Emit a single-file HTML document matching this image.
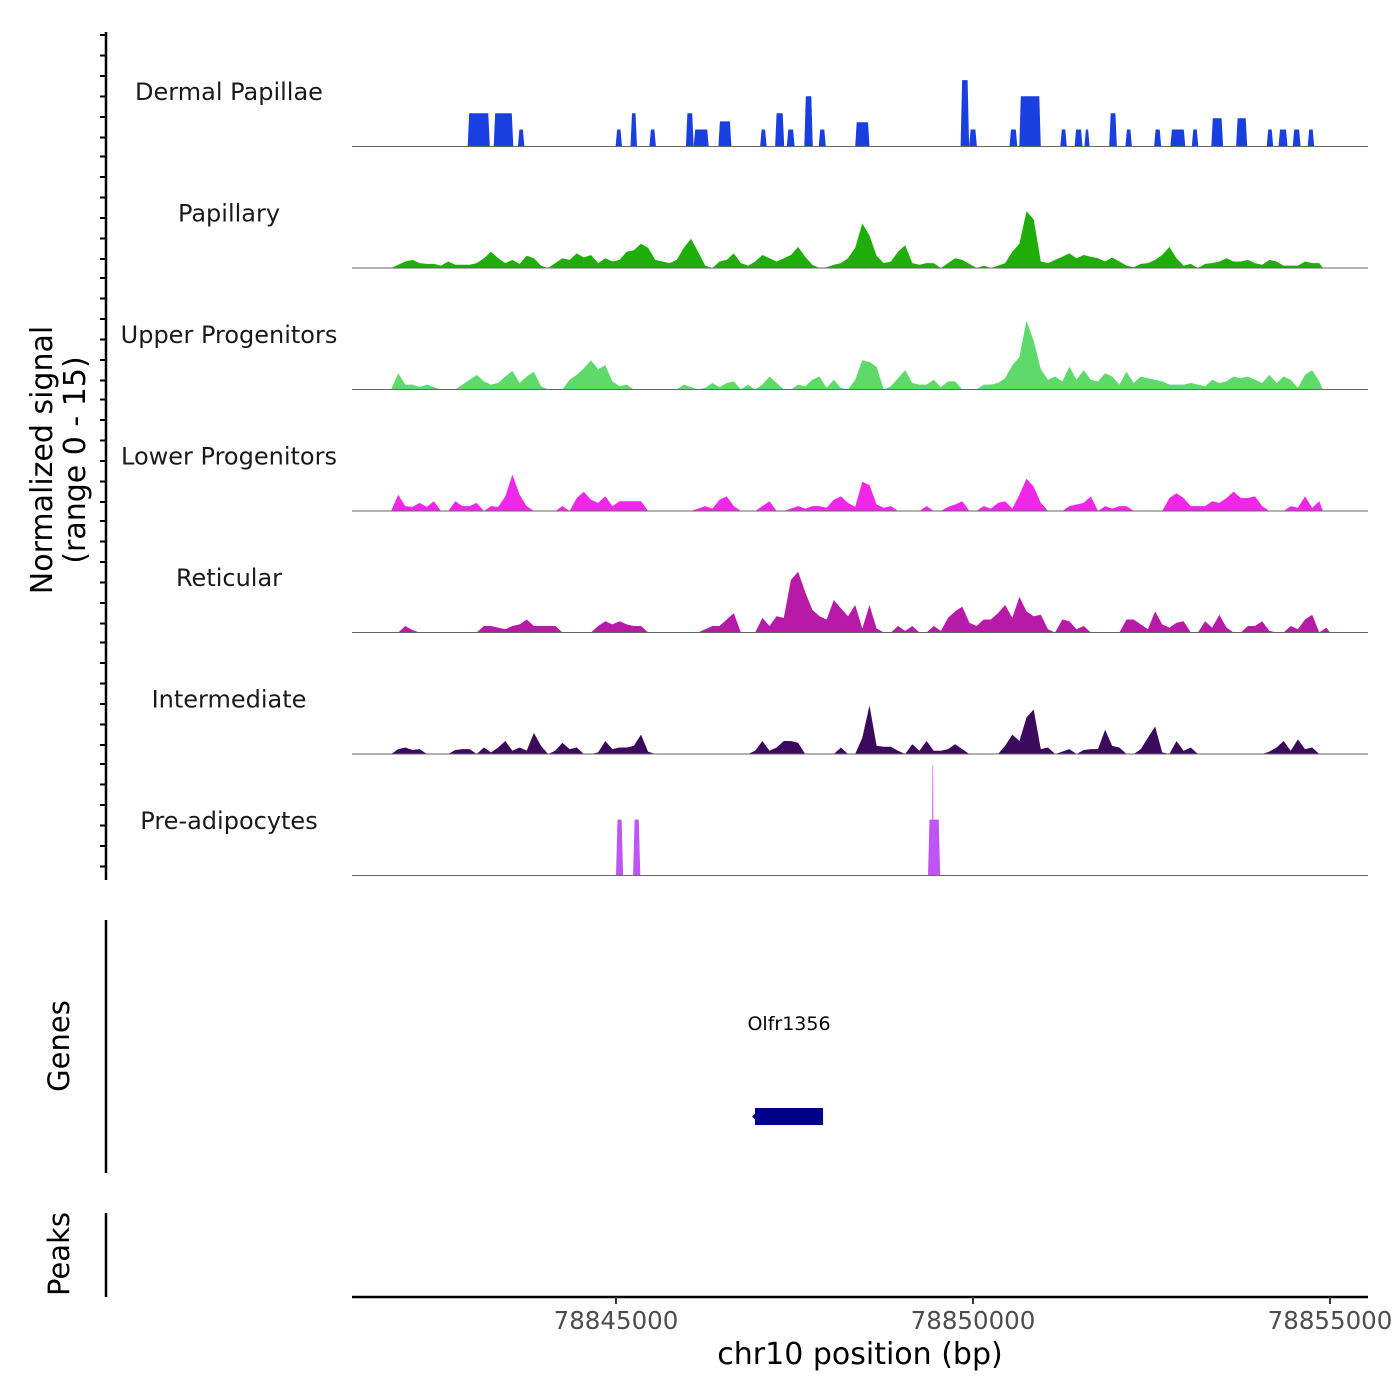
<!DOCTYPE html>
<html><head><meta charset="utf-8"><style>
html,body{margin:0;padding:0;background:#fff;}
svg{display:block;font-family:"DejaVu Sans","Liberation Sans",sans-serif;}
</style></head><body>
<svg id="chart" width="1400" height="1400" viewBox="0 0 1400 1400" xmlns="http://www.w3.org/2000/svg"></svg>
<script>
// ---- data ----
const trackNames = ["Dermal Papillae","Papillary","Upper Progenitors","Lower Progenitors","Reticular","Intermediate","Pre-adipocytes"];
const trackColors = ["#1a3fe0","#1fae09","#5dda6a","#f026e8","#b81aa8","#3c0a5c","#c055f5"];
const binStart = 78841300;
const binSize = 100;
const papillaryVals = [0,0,0,0,0,0,0.4,0.8,1.0,0.6,0.5,0.5,0.3,0.8,0.4,0.4,0.4,0.6,1.2,2.0,1.2,0.6,1.0,0.5,1.5,1.2,0.3,0,0.6,1.2,1.0,1.8,1.3,1.6,0.6,1.2,0.8,1.0,2.0,2.2,3.0,2.5,1.0,0.8,0.6,1.0,2.5,3.6,2.0,0.3,0,0.8,1.0,1.8,0.6,0.3,0.8,1.6,1.2,0.8,1.2,1.6,2.6,1.4,0.4,0,0.1,0.4,0.6,1.2,2.5,5.5,4.0,1.5,0.6,0.8,2.0,2.8,0.6,0.4,0.6,0.6,0,0.6,1.2,1.0,0.5,0,0.3,0,0.3,0.6,2.0,3.0,7.0,6.0,0.8,0.6,1.0,1.4,1.8,1.2,1.6,1.4,1.2,0.8,1.3,0.8,0.3,0.1,0.5,0.6,1.0,1.6,2.6,1.2,0.3,0.5,0,0.5,0.6,0.8,1.2,0.8,0.8,1.0,0.6,0.4,1.0,0.8,0.3,0.3,0.3,0.8,0.6,0.6];
const upperVals = [0,0,0,0,0,0,2.0,0.6,0.6,0.3,0.6,0.3,0,0,0,0.6,1.2,1.8,1.0,0.6,0.8,1.6,2.3,0.8,1.6,2.2,0.4,0,0,0,1.2,1.8,2.6,3.6,2.5,3.0,1.0,0.4,0.6,0,0,0,0,0,0,0,0.6,0.3,0,0.2,0.8,0.3,0.8,1.0,0,0.6,0,0.6,1.6,0.8,0,0,0.6,0.4,1.2,1.6,0.2,1.2,0.2,0,1.2,3.6,3.4,2.8,0,0.4,1.4,2.4,0.8,0.6,0.6,1.2,0.3,1.0,1.0,0,0,0,0.6,0.6,0.8,1.4,3.0,4.0,8.5,6.0,2.5,1.2,1.6,1.0,2.8,1.2,2.4,1.2,1.0,2.0,1.6,0.6,2.2,0.8,1.6,1.4,1.2,1.0,0.6,0.6,0.6,0.8,0.6,0.4,1.2,0.8,1.0,1.6,1.4,1.6,1.2,0.8,1.8,0.8,1.6,1.2,0.2,1.8,2.4,1.0];
const lowerVals = [0,0,0,0,0,0,2.0,0.6,0.5,1.0,0.5,1.2,0,0,1.2,0.6,0.6,1.0,0,0.6,0.5,1.8,4.5,2.0,0.6,0,0,0,0,0.6,0,1.6,2.4,1.4,1.0,1.8,0.6,1.2,1.2,1.2,1.2,0,0,0,0,0,0,0,0.3,0.6,0.3,1.4,1.8,0.6,0,0,0,0.6,1.2,0,0,0.3,0.6,0.3,0.6,0.6,0.4,1.4,1.8,1.0,0.5,3.6,3.2,0.8,0.4,0.6,0,0,0,0,0.6,0,0,0.5,0.8,1.2,0,0,0.6,0.3,1.0,1.2,0.3,2.0,4.0,3.0,1.0,0,0,0,0.6,0.8,1.0,1.8,0,0.6,0.3,0.6,0.6,0,0,0,0,0,1.6,2.2,1.6,0.6,0.6,0.6,1.2,1.0,1.6,2.4,1.6,1.6,1.8,0.6,0,0,0,0.6,0.4,1.8,0.4,1.2];
const reticularVals = [0,0,0,0,0,0,0,0.8,0.3,0,0,0,0,0,0,0,0,0,0.8,0.8,0.6,0.4,0.8,1.0,1.6,0.8,0.8,0.8,0.8,0,0,0,0,0,0.8,1.4,1.0,1.4,1.0,0.8,0.8,0,0,0,0,0,0,0,0,0.4,0.8,0.8,1.6,2.4,0,0,0,1.8,0.8,2.0,1.8,6.5,7.5,5.0,2.8,2.0,1.6,4.0,3.0,2.0,3.4,0.5,3.4,0.5,0,0,0.8,0.2,0.8,0,0,0.8,0.2,1.8,2.6,3.2,1.2,0.8,1.6,1.6,2.4,3.4,1.8,4.4,2.6,2.0,2.2,0.4,0,1.6,1.4,0.4,0.8,0,0,0,0,0,1.6,1.6,1.0,0.4,2.6,1.0,0.6,1.2,1.4,0,0,1.4,0.6,2.2,0.6,0,0,0.8,0.8,1.4,0.2,0,0,0.8,0.4,1.6,2.2,0,0.6];
const intermediateVals = [0,0,0,0,0,0,0.6,0.8,0.5,0.6,0,0,0,0,0.5,0.6,0.6,0,0.8,0.2,0.8,1.6,0.4,0.8,0.4,2.6,1.0,0,0.4,1.4,0.6,0.8,0,0,0.2,1.6,0.6,0.8,0.8,1.0,2.4,0.3,0,0,0,0,0,0,0,0,0,0,0,0,0,0,0.4,1.6,0.4,0.8,1.6,1.6,1.4,0,0,0,0,0,0.8,0,0,2.0,6.0,1.0,0.9,0.9,0.4,0,1.2,0.4,1.6,0.4,0.4,0.6,1.2,0.6,0,0,0,0,0,1.0,2.4,1.6,4.5,5.5,0.6,0.8,0,0.3,0.6,0,0.5,0.6,0.6,3.0,1.0,0.8,0,0,0.6,2.0,3.4,0.2,0,1.6,0.4,0.8,0,0,0,0,0,0,0,0,0,0,0.3,0.8,1.6,0.4,1.8,0.6,0.8,0];
const dermalStarts = [78842923,78843288,78843626,78844994,78845203,78845468,78845979,78846088,78846435,78847018,78847228,78847392,78847638,78847839,78848350,78849827,78849946,78850511,78850648,78851223,78851423,78851560,78851907,78852135,78852536,78852764,78853065,78853338,78853685,78854114,78854278,78854478,78854688];
const dermalEnds =   [78843233,78843562,78843717,78845085,78845295,78845559,78846088,78846298,78846617,78847109,78847356,78847502,78847757,78847939,78848550,78849946,78850055,78850621,78850949,78851314,78851533,78851633,78852016,78852226,78852636,78852974,78853156,78853503,78853840,78854205,78854405,78854588,78854779];
const dermalVals =   [4.1,4.1,2.1,2.1,4.1,2.1,4.1,2.1,3.1,2.1,4.1,2.1,6.2,2.1,3.0,8.2,2.1,2.1,6.2,2.1,2.1,2.1,4.1,2.1,2.1,2.1,2.1,3.5,3.5,2.1,2.1,2.1,2.1];
const preStarts = [78845000,78845240,78849370,78849425];
const preEnds =   [78845100,78845340,78849540,78849450];
const preVals =   [6.9,6.9,6.9,13.6];
const geneName = "Olfr1356";
const geneStart = 78846947;
const geneEnd = 78847900;
const xTickVals = [78845000,78850000,78855000];

// ---- scales ----
const NS="http://www.w3.org/2000/svg";
const svg=document.getElementById('chart');
const plotL=352, plotR=1368, domL=78841303, domR=78855532;
function xs(bp){return plotL+(bp-domL)*(plotR-plotL)/(domR-domL);}
const trackTop=25, trackH=121.5, maxSig=15;
function base(k){return trackTop+trackH*(k+1);}
function ys(k,v){return base(k)-v*trackH/maxSig;}
function mk(tag,attrs,parent){const e=document.createElementNS(NS,tag);for(const a in attrs)e.setAttribute(a,attrs[a]);(parent||svg).appendChild(e);return e;}

const binTracks={1:papillaryVals,2:upperVals,3:lowerVals,4:reticularVals,5:intermediateVals};
const segTracks={0:[dermalStarts,dermalEnds,dermalVals],6:[preStarts,preEnds,preVals]};

for(let k=0;k<7;k++){
  const g=mk('g',{});
  
  
  let d='';
  if(binTracks[k]){
    const vals=binTracks[k];
    d='M'+xs(binStart).toFixed(1)+','+base(k);
    vals.forEach((v,i)=>{
      const c=binStart+i*binSize+binSize/2;
      d+=' L'+xs(c).toFixed(1)+','+ys(k,v).toFixed(1);
    });
    d+=' L'+xs(binStart+vals.length*binSize).toFixed(1)+','+base(k)+' Z';
  } else {
    const [s,e,v]=segTracks[k];
    for(let i=0;i<s.length;i++){
      const x0=xs(s[i]),x1=xs(e[i]),y=ys(k,v[i]),b=base(k);
      const t=Math.min(1.5,(x1-x0)/3);
      d+='M'+x0.toFixed(1)+','+b+' L'+(x0+t).toFixed(1)+','+y.toFixed(1)+' L'+(x1-t).toFixed(1)+','+y.toFixed(1)+' L'+x1.toFixed(1)+','+b+' Z ';
    }
  }
  const p=mk('path',{d:d,fill:trackColors[k],stroke:'none'},g);
  
  
  const bl=mk('line',{x1:plotL,x2:plotR,y1:base(k),y2:base(k),stroke:'#666',"stroke-width":1},g);
  
  
  const lab=mk('text',{x:229,y:trackTop+trackH*k+75,"text-anchor":"middle","font-size":24,fill:'#1a1a1a'},g);
  lab.textContent=trackNames[k];
  
  
}

// left axis
const ax=mk('line',{x1:106,x2:106,y1:32,y2:880,stroke:'#000',"stroke-width":2.5});


for(let k=0;k<7;k++){
  for(let j=0;j<6;j++){
    const y=trackTop+trackH*k+10+j*20.5;
    const t=mk('line',{x1:100,x2:106,y1:y,y2:y,stroke:'#000',"stroke-width":2});
    
    
  }
}
const yt=mk('text',{transform:'translate(52,460) rotate(-90)',"text-anchor":"middle","font-size":30,fill:'#000'});


const t1=mk('tspan',{x:0,dy:0},yt); t1.textContent='Normalized signal';
const t2=mk('tspan',{x:0,dy:33},yt); t2.textContent='(range 0 - 15)';

// genes panel
const ga=mk('line',{x1:106,x2:106,y1:920,y2:1173,stroke:'#000',"stroke-width":2.5});


const gt=mk('text',{transform:'translate(69,1046) rotate(-90)',"text-anchor":"middle","font-size":29,fill:'#000'});
gt.textContent='Genes';


const gb=mk('rect',{x:xs(geneStart),y:1108,width:xs(geneEnd)-xs(geneStart),height:17,fill:'#00008b'});


const gar=mk('path',{d:'M'+(xs(geneStart)-3)+',1116.5 L'+(xs(geneStart)+3)+',1111 L'+(xs(geneStart)+3)+',1122 Z',fill:'#00008b'});


const gl=mk('text',{x:(xs(geneStart)+xs(geneEnd))/2,y:1030,"text-anchor":"middle","font-size":19,fill:'#000'});
gl.textContent=geneName;



// peaks panel
const pa=mk('line',{x1:106,x2:106,y1:1213,y2:1297,stroke:'#000',"stroke-width":2.5});


const pt=mk('text',{transform:'translate(69,1254) rotate(-90)',"text-anchor":"middle","font-size":29,fill:'#000'});
pt.textContent='Peaks';



// x axis
const xa=mk('line',{x1:plotL,x2:plotR,y1:1297,y2:1297,stroke:'#000',"stroke-width":2.5});


xTickVals.forEach(v=>{
  const t=mk('line',{x1:xs(v),x2:xs(v),y1:1297,y2:1304,stroke:'#333',"stroke-width":2});
  
  
  const l=mk('text',{x:xs(v),y:1329,"text-anchor":"middle","font-size":24.5,fill:'#4d4d4d'});
  l.textContent=String(v);
  
  
});
const xt=mk('text',{x:860,y:1364,"text-anchor":"middle","font-size":30,fill:'#000'});
xt.textContent='chr10 position (bp)';


</script>
</body></html>
